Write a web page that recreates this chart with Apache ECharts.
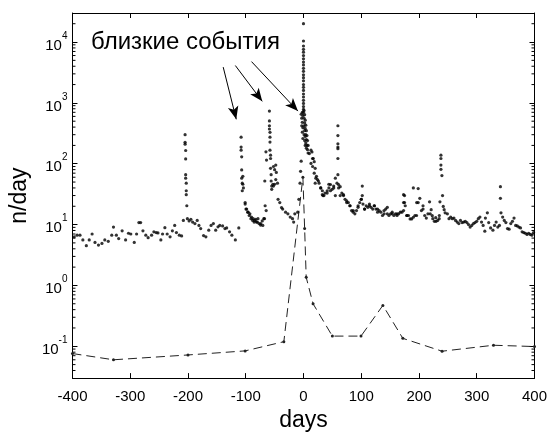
<!DOCTYPE html>
<html>
<head>
<meta charset="utf-8">
<script src="https://cdn.jsdelivr.net/npm/echarts@6/dist/echarts.min.js"></script>
<style>html,body{margin:0;padding:0;background:#fff}#c{width:550px;height:437px}</style>
</head>
<body>
<div id="c"></div>
<script>
// ---- data: [day, events per day] ----
const bgEarly = [[-397,6.3],[-392,6.7],[-387,6.7],[-382,5.6],[-376,4.5],[-371,5.6],[-366,7.0],[-361,5.1],[-355,4.6],[-349,4.9],[-344,5.6],[-338,5.3],[-332,6.7],[-329,9.1],[-324,6.7],[-320,5.9],[-314,7.9],[-308,5.6],[-303,7.2],[-299,7.0],[-293,5.1],[-289,7.0],[-285,10.8],[-282,10.8],[-278,7.9],[-273,6.7],[-269,6.1],[-263,6.7],[-259,7.6],[-255,7.4],[-252,7.3],[-247,5.6],[-244,7.0],[-240,8.9],[-236,7.0],[-231,6.3],[-227,7.9],[-223,9.7],[-220,7.4],[-215,6.7],[-211,6.5],[-208,11.7]];
const spike200 = [[-205,300],[-205,225],[-205,210],[-204,165],[-204,120],[-204,66],[-204,58],[-203,48],[-203,36],[-203,31],[-202,20.4]];
const bgMid = [[-201,12.5],[-198,11.5],[-195,12.2],[-192,11.0],[-188,10.4],[-184,11.7],[-181,9.7],[-178,8.6],[-173,6.6],[-169,6.3],[-164,8.1],[-160,9.7],[-156,10.4],[-152,8.1],[-148,9.2],[-145,9.7],[-140,9.5],[-136,8.6],[-133,8.8],[-128,7.6],[-124,6.7],[-118,5.6],[-112,8.8]];
const spike105 = [[-108,273],[-108,188],[-108,167],[-107,130],[-107,79],[-107,58],[-106,48],[-106,36],[-105,46],[-105,62],[-104,40],[-101,23],[-101,21.7],[-99.6,18],[-98.4,18],[-96.7,16],[-95.7,16],[-94,14.1],[-92.8,15],[-91,12.5],[-90,13.3],[-88,11.7],[-87,12.5],[-85.5,11],[-84.4,11.7],[-82.7,12.2],[-81.5,11],[-79.8,11],[-78.8,12.5],[-77,10.4],[-74.3,9.8],[-74,10.4],[-71.4,11.5],[-70.4,9.7],[-68.7,12.5],[-67.5,12.5],[-66.4,20.4],[-64.6,17]];
const spike60 = [[-67,52],[-65,157],[-64,115],[-59,733],[-59,506],[-59,421],[-59,372],[-58,328],[-58,273],[-58,227],[-58,167],[-57,138],[-57,122],[-57,84],[-56,66],[-56,52],[-55,43],[-55,38],[-52,90],[-50,80],[-48,95],[-47,72],[-48,55],[-52,43],[-53,46],[-50,46],[-45,48],[-44,26],[-41,23],[-38,19],[-36,18],[-31,16],[-27,15],[-23,13.3],[-19,12.5],[-17,11],[-15,15],[-10,16],[-8,26],[-6,48],[-5,75],[-4,110]];
const mainShock = [[0,20000],[0,10400],[0,8600],[0,7600],[0,6800],[0,6000],[0,5300],[0,4700],[0,4200],[0,3700],[0,3300],[0,2900],[0,2600],[0,2300],[0,2000],[0,1800],[0,1600],[0,1400],[0,1250],[0,1100],[0,980],[0,870],[0,780],[0,700],
  [-4,650],[-3,560],[-3,420],[-2,700],[-2,480],[-2,330],[-1,620],[-1,390],[-1,260],[1,750],[1,560],[1,420],[1,300],[2,640],[2,470],[2,350],[2,240],[3,520],[3,380],[3,280],[3,200],[4,430],[4,300],[4,220],[5,350],[5,250],[5,180],[6,290],[6,200],[7,240],[7,170],[8,200],[8,150]];
const aftershocks = [[10.2,147],[14.7,156],[17,122],[13,101],[15.8,90],[18.6,70],[21.4,58],[24.2,55],[20.3,48],[27,48],[29.9,40],[32.7,36],[33.8,30],[37.2,33],[41.1,36],[44,40],[46.7,45.5],[49.6,38],[52.4,40],[55.2,58],[58,48],[60.8,45.5],[63.6,42],[66.4,33],[69.3,30],[72,26],[74.9,24.5],[77.7,23],[80.5,20.4],[83.3,17],[86.1,16],[89,15],[91.8,17],[94.6,20.4],[97.4,23],[100.2,26],[103,21.7],[105.8,18],[108.6,20.4],[111.4,19.2],[114.3,20.4],[117,19.2],[119.9,18],[122.7,20.4],[125.5,18],[128.3,16],[131,17],[134,16],[136.8,14.1],[139.6,15],[142.4,18],[145.2,19.2],[148,14.1],[150.8,15],[153.6,15],[156.5,14.1],[159.3,15],[162,14.1],[164.9,15],[167.7,16],[170.5,16],[173.3,17],[176.2,20.4],[179,14.1],[181.8,14.1],[184.6,12.4],[187.4,12.4],[190.2,13.2],[193,14.1],[195.8,14.1],
  [13,167],[15.7,122],[18.6,108],[20.3,84],[22.5,62],[25.8,52],[29.9,40],[32.6,31],[35.4,30],[41,33],[43.9,46],[46.7,36],[52.3,43],[55.2,30],[60.8,40],[63.6,30],[69.2,31],[74.8,23],[80.5,20.4],[86.1,17],[94.5,19.2],[100,26],[105.8,18],[114.2,21.7],[122.7,20.4],[128.3,18],[139.5,17],[145.2,15],[153.6,16],[162,15],[173.3,31],[173.3,23],[179,14.1],[190.2,40],[196,23],[207,18],[215.5,15],[223,14],[229,13],[235,12.5]];
const lateSpikes = [[59.6,421],[59.6,290],[59.6,213],[59.6,188],[59.6,177],[59.6,122],[59.6,66],[101.8,43],[101.8,30],[175,30],[175,23],[198.6,39]];
const tail = [[201.4,27],[198.6,23],[207,20.4],[204.2,17],[209.9,14.1],[212.7,12.8],[218.3,23.7],[221.1,17.6],[219.4,15],[223.9,12.5],[226.7,11.3],[229.6,11.3],[232.4,11.7],[235.2,14.1],[236.3,23.7],[238,138],[238,122],[238,95],[238,81],[239.7,64],[240.8,30],[242,19.9],[243.6,17.6],[245.3,15.6],[249.2,15],[252,12.5],[254.9,13.3],[257.7,12.5],[260.5,12.8],[263.3,11.7],[266.1,11],[269,10.4],[271.8,11.7],[274.6,10.8],[277.4,11],[280.2,11.3],[283,10.8],[285.8,10],[288.6,9.1],[291.4,9.7],[294.3,10.4],[297,10.8],[299.9,11.3],[302.7,12.5],[305.5,13.3],[308.3,11],[311.1,9.7],[314,7.8],[315,12.8],[318.4,15.6],[320.7,10.8],[324,8.8],[328,8.1],[330.8,9.7],[333.6,11],[336.5,9.1],[339.3,9.7],[341,42],[341,27],[342,15.6],[344.9,13.3],[347.7,11.7],[350.5,10.8],[353.3,8.6],[356.1,8.4],[359,10.4],[361.8,11.3],[364.6,12.8],[367.4,9.7],[370.2,9.5],[373,9.1],[375.8,8.8],[378.6,7.6],[381.5,7.4],[384.3,7.2],[387.1,6.9],[389.9,7.2],[392.7,6.9],[395.5,6.7],[398.3,7.4]];

// model curve (dashed)
const modelDays  = [-400, -329, -200, -101, -34, -1, 2, 4.7, 16.6, 50, 99.6, 137.5, 172, 240, 329, 400];
const modelRates = [0.076, 0.060, 0.072, 0.084, 0.119, 60, 8.6, 1.36, 0.50, 0.147, 0.147, 0.47, 0.135, 0.083, 0.104, 0.099];

// annotation arrows: [fromDay, fromRate, toDay, toRate]
const arrows = [[-139, 3870, -116.4, 537], [-118, 4110, -71.4, 1060], [-90, 4770, -9.6, 733]];
const annotationText = 'близкие события';

// axis settings
const xTickMin = -400, xTickMax = 400, xTickStep = 100;
const yMin = 0.03, yMax = 30000;
const minorMantissas = [2, 3, 4, 5, 6, 7, 8, 9];
const minorDecades = [-2, -1, 0, 1, 2, 3, 4];

const F = "'Liberation Sans', Arial, sans-serif";
const events = [].concat(bgEarly, spike200, bgMid, spike105, spike60, mainShock, aftershocks, lateSpikes, tail);
const model = modelDays.map((d, i) => [d, modelRates[i]]);
const minorTicks = [];
minorDecades.forEach(e => minorMantissas.forEach(m => {
  const v = m * Math.pow(10, e);
  if (v > yMin && v < yMax) minorTicks.push([xTickMin, v]);
}));

const chart = echarts.init(document.getElementById('c'), null, {renderer: 'canvas'});

function yLabel(v) {
  const l = Math.log10(v);
  const e = Math.round(l);
  if (Math.abs(l - e) > 0.01) return '';
  return '{b|10}{s|' + e + '}';
}

const axisLineStyle = {lineStyle: {color: '#000', width: 1}};
const tickStyle = {inside: true, length: 5, lineStyle: {color: '#000', width: 1}};

const option = {
  animation: false,
  backgroundColor: '#fff',
  grid: {left: 67, right: 9, top: 13, bottom: 51, containLabel: false},
  xAxis: [{
    type: 'value', min: xTickMin, max: xTickMax, interval: xTickStep,
    name: 'days', nameLocation: 'middle', nameGap: 28,
    nameTextStyle: {fontSize: 23, color: '#000', fontFamily: F},
    axisLine: Object.assign({onZero: false, show: true}, axisLineStyle),
    axisTick: tickStyle,
    axisLabel: {fontSize: 15, color: '#000', fontFamily: F, margin: 11},
    splitLine: {show: false}
  }, {
    type: 'value', position: 'top', min: xTickMin, max: xTickMax, interval: xTickStep,
    axisLine: Object.assign({onZero: false, show: true}, axisLineStyle),
    axisTick: tickStyle, axisLabel: {show: false}, splitLine: {show: false}
  }],
  yAxis: [{
    type: 'log', logBase: 10, min: yMin, max: yMax,
    name: 'n/day', nameLocation: 'middle', nameGap: 35,
    nameTextStyle: {fontSize: 23, color: '#000', fontFamily: F},
    axisLine: Object.assign({show: true, onZero: false}, axisLineStyle),
    axisTick: tickStyle,
    axisLabel: {
      margin: 5, showMinLabel: false, showMaxLabel: false,
      formatter: yLabel,
      rich: {
        b: {fontSize: 15, color: '#000', fontFamily: F, lineHeight: 22, verticalAlign: 'bottom'},
        s: {fontSize: 10, color: '#000', fontFamily: F, lineHeight: 10, verticalAlign: 'bottom', padding: [0, 0, 12, 0]}
      }
    },
    splitLine: {show: false}
  }, {
    type: 'log', logBase: 10, min: yMin, max: yMax, position: 'right',
    axisLine: Object.assign({show: true, onZero: false}, axisLineStyle),
    axisTick: tickStyle, axisLabel: {show: false}, splitLine: {show: false}
  }],
  graphic: [{
    type: 'text', left: 91, top: 30, silent: true,
    style: {text: annotationText, font: '24px ' + F, fill: '#000'}
  }],
  series: [{
    type: 'custom', silent: true, clip: false, xAxisIndex: 0, yAxisIndex: 0,
    data: minorTicks,
    renderItem: function (params, api) {
      const v = api.value(1);
      const pL = api.coord([xTickMin, v]);
      const pR = api.coord([xTickMax, v]);
      const st = {stroke: '#000', lineWidth: 1};
      return {type: 'group', children: [
        {type: 'line', shape: {x1: pL[0], y1: pL[1], x2: pL[0] + 3, y2: pL[1]}, style: st},
        {type: 'line', shape: {x1: pR[0], y1: pR[1], x2: pR[0] - 3, y2: pR[1]}, style: st}
      ]};
    }
  }, {
    type: 'line', data: model, xAxisIndex: 0, yAxisIndex: 0,
    symbol: 'circle', symbolSize: 3, showSymbol: true,
    itemStyle: {color: '#222'},
    lineStyle: {color: '#222', width: 1, type: [9, 5]},
    silent: true, z: 3
  }, {
    type: 'scatter', data: events, xAxisIndex: 0, yAxisIndex: 0,
    symbol: 'circle', symbolSize: 3.2,
    itemStyle: {color: '#000'},
    silent: true, z: 4,
    markLine: {
      silent: true, animation: false,
      symbol: ['none', 'arrow'], symbolSize: [8, 13],
      lineStyle: {color: '#000', width: 1, type: 'solid'},
      label: {show: false},
      data: arrows.map(a => [{coord: [a[0], a[1]]}, {coord: [a[2], a[3]]}])
    }
  }]
};
chart.setOption(option);
</script>
</body>
</html>
